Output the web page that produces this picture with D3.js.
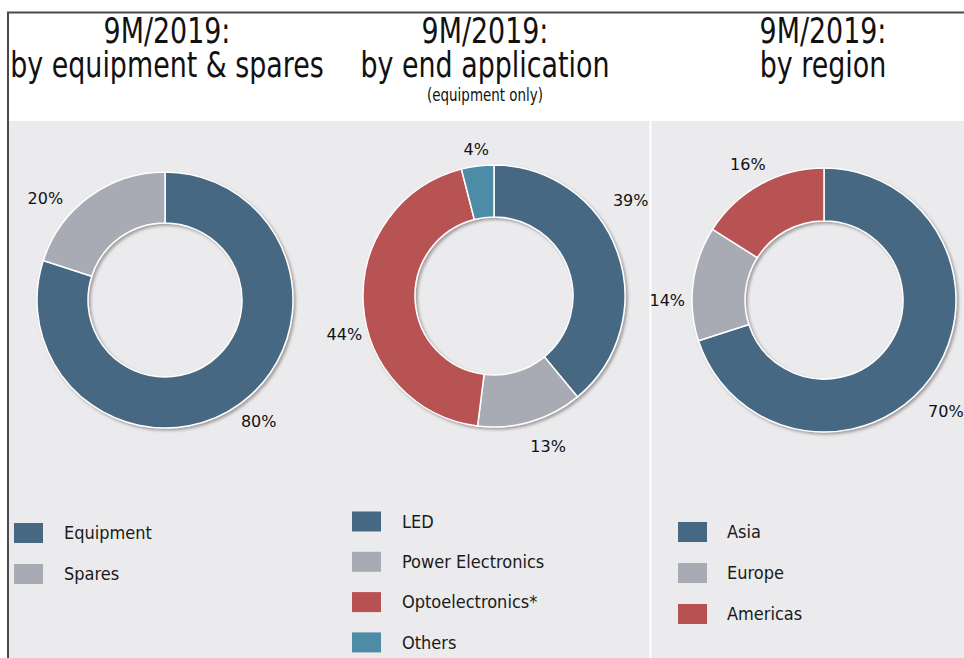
<!DOCTYPE html>
<html>
<head>
<meta charset="utf-8">
<script src="https://cdn.jsdelivr.net/npm/d3@7"></script>
<style>
  body { margin: 0; background: #fff; }
  svg { display: block; }
</style>
</head>
<body>
<div id="chart"></div>
<script>
// chart values
const equipCategories = ["Equipment", "Spares"];
const equipValues = [80, 20];

const appCategories = ["LED", "Power Electronics", "Optoelectronics*", "Others"];
const appValues = [39, 13, 44, 4];

const regionCategories = ["Asia", "Europe", "Americas"];
const regionValues = [70, 14, 16];

const titleLines = [
  ["9M/2019:", "by equipment & spares"],
  ["9M/2019:", "by end application"],
  ["9M/2019:", "by region"]
];
const subTitles = ["", "(equipment only)", ""];

// colours
const blue = "#476883", grey = "#a9abb4", red = "#b85252", teal = "#4e8ca6";
const equipColors = [blue, grey];
const appColors = [blue, grey, red, teal];
const regionColors = [blue, grey, red];

const width = 964, height = 658;

// layout of the three panels (labels were hand placed in the original, hence the nudges)
const panels = [
  {cats: equipCategories, vals: equipValues, cols: equipColors,
   cx: 165, cy: 300, outer: 128, inner: 77, labelR: 156, titleX: 167,
   nudge: [[2, -5], [-28, 25]],
   legX: 14, legY: 533, legStep: 41, textX: 64},
  {cats: appCategories, vals: appValues, cols: appColors,
   cx: 494, cy: 296, outer: 131, inner: 79, labelR: 158, titleX: 485,
   nudge: [[-12, -42], [10, -1], [8, 28], [2, 10]],
   legX: 352, legY: 521.5, legStep: 40.3, textX: 402},
  {cats: regionCategories, vals: regionValues, cols: regionColors,
   cx: 824, cy: 300, outer: 132, inner: 79, labelR: 158, titleX: 823,
   nudge: [[-6, 19], [0, 20], [0, 3]],
   legX: 678, legY: 532, legStep: 41, textX: 727}
];

const svg = d3.select("#chart")
  .append("svg")
    .attr("width", width)
    .attr("height", height);

// shadow for the rings
const defs = svg.append("defs");
defs.append("filter")
    .attr("id", "ringShadow")
    .attr("x", "-10%").attr("y", "-10%")
    .attr("width", "120%").attr("height", "120%")
  .append("feDropShadow")
    .attr("dx", 2).attr("dy", 2)
    .attr("stdDeviation", 1.5)
    .attr("flood-color", "#6b6060")
    .attr("flood-opacity", 0.55);

// grey plot area and separator
svg.append("rect")
    .attr("x", 8).attr("y", 121)
    .attr("width", width - 8).attr("height", height - 121)
    .attr("fill", "#ebebed");
svg.append("line")
    .attr("x1", 650.5).attr("x2", 650.5)
    .attr("y1", 120).attr("y2", height)
    .attr("stroke", "#fff").attr("stroke-width", 2);

// frame (top + left)
svg.append("path")
    .attr("d", "M8," + height + "V12.5H" + width)
    .attr("fill", "none")
    .attr("stroke", "#4a4a4a")
    .attr("stroke-width", 2);

const pie = d3.pie().sort(null).value(function(d) { return d.value; });

// narrow title text: condensed font squeezed a bit more
function titleText(sel, x, y, size, str) {
  sel.append("text")
      .attr("transform", "translate(" + x + "," + y + ") scale(0.83,1)")
      .attr("font-size", size)
      .text(str);
}

panels.forEach(function(p, i) {
  const data = p.cats.map(function(c, j) { return {cat: c, value: p.vals[j], color: p.cols[j]}; });
  const arcs = pie(data);

  const arc = d3.arc().innerRadius(p.inner).outerRadius(p.outer);
  const labelArc = d3.arc().innerRadius(p.labelR).outerRadius(p.labelR);

  // titles
  const t = svg.append("g")
      .attr("font-family", "'Liberation Sans Narrow', 'DejaVu Sans Condensed', sans-serif")
      .attr("fill", "#111")
      .attr("text-anchor", "middle");
  titleText(t, p.titleX, 43, 36, titleLines[i][0]);
  titleText(t, p.titleX, 77, 36, titleLines[i][1]);
  if (subTitles[i]) titleText(t, p.titleX, 101, 18, subTitles[i]);

  // donut
  const g = svg.append("g")
      .attr("transform", "translate(" + p.cx + "," + p.cy + ")");

  g.append("g")
      .attr("filter", "url(#ringShadow)")
    .selectAll("path")
    .data(arcs)
    .enter()
    .append("path")
      .attr("d", arc)
      .attr("fill", function(d) { return d.data.color; })
      .attr("stroke", "#fff")
      .attr("stroke-width", 1.5);

  g.selectAll("text.pct")
    .data(arcs)
    .enter()
    .append("text")
      .attr("class", "pct")
      .attr("transform", function(d, j) {
        const c = labelArc.centroid(d);
        return "translate(" + (c[0] + p.nudge[j][0]) + "," + (c[1] + p.nudge[j][1]) + ")";
      })
      .attr("text-anchor", "middle")
      .attr("dy", "0.35em")
      .attr("font-family", "'DejaVu Sans', Verdana, sans-serif")
      .attr("font-size", 16)
      .attr("fill", "#111")
      .text(function(d) { return d.data.value + "%"; });

  // legend
  const leg = svg.append("g")
    .selectAll("g")
    .data(data)
    .enter()
    .append("g")
      .attr("transform", function(d, j) { return "translate(0," + (p.legY + j * p.legStep) + ")"; });

  leg.append("rect")
      .attr("x", p.legX).attr("y", -10)
      .attr("width", 29).attr("height", 20)
      .attr("fill", function(d) { return d.color; });

  leg.append("text")
      .attr("x", p.textX)
      .attr("dy", "0.35em")
      .attr("font-family", "'DejaVu Sans Condensed', 'DejaVu Sans', sans-serif")
      .attr("font-size", 18)
      .attr("fill", "#1a1a1a")
      .text(function(d) { return d.cat; });
});
</script>
</body>
</html>
